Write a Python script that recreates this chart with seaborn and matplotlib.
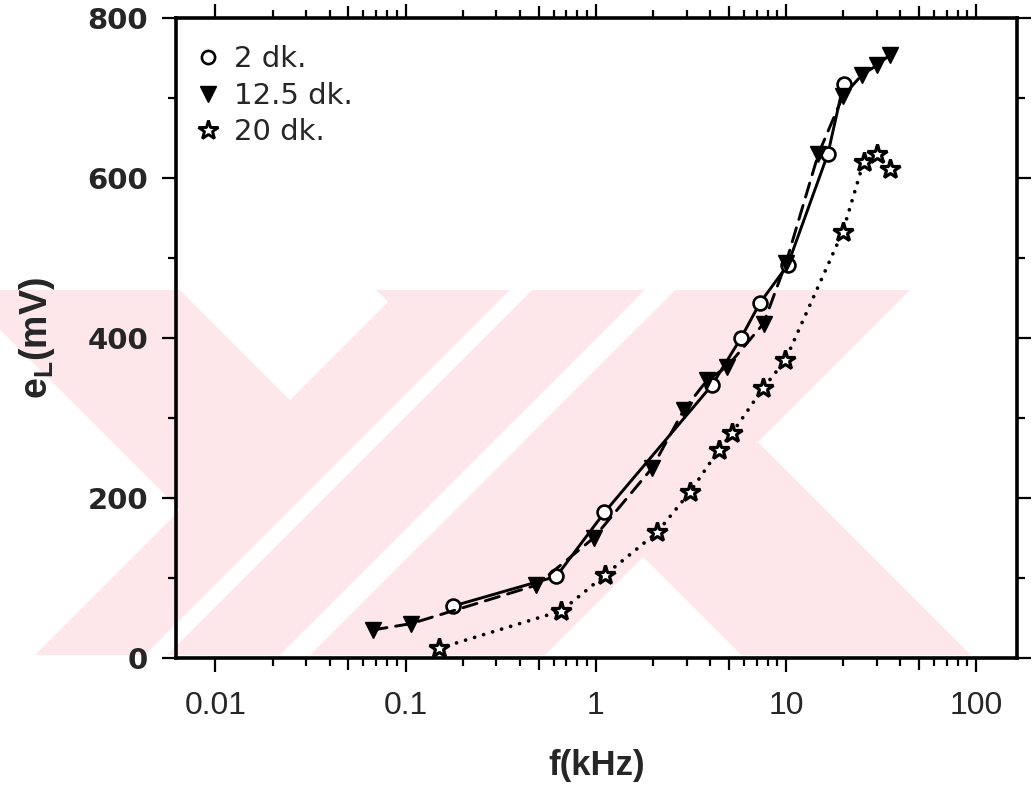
import numpy as np
import pandas as pd
import matplotlib
matplotlib.use("Agg")
import matplotlib.pyplot as plt
from matplotlib.ticker import FixedLocator, NullFormatter
from matplotlib.lines import Line2D
from matplotlib.patches import Polygon, Rectangle
import seaborn as sns

# Frequency (kHz) and load voltage e_L (mV) for three durations
f_2dk = [0.178, 0.62, 1.11, 4.08, 5.8, 7.3, 10.2, 16.6, 20.1]
e_2dk = [65, 102, 182, 341, 400, 444, 491, 630, 718]

f_12dk = [0.067, 0.107, 0.486, 0.974, 1.97, 2.9, 3.84, 4.89, 7.62, 10.0,
          14.8, 19.9, 25.1, 30.1, 35.3]
e_12dk = [35, 43, 91, 150, 237, 310, 347, 364, 418, 494,
          630, 702, 729, 741, 754]

f_20dk = [0.149, 0.66, 1.12, 2.1, 3.14, 4.43, 5.2, 7.57, 9.9, 19.9,
          25.6, 30.1, 35.1]
e_20dk = [12, 59, 104, 157, 208, 260, 281, 337, 372, 533,
          620, 630, 611]

series_labels = ["2 dk.", "12.5 dk.", "20 dk."]
x_tick_values = [0.01, 0.1, 1, 10, 100]
x_tick_labels = ["0.01", "0.1", "1", "10", "100"]
y_tick_values = [0, 200, 400, 600, 800]

sns.set_theme(style="ticks")
plt.rcParams["font.family"] = ["Liberation Sans", "DejaVu Sans"]

W, H = 1036, 801
fig = plt.figure(figsize=(W / 100, H / 100), dpi=100)

# faint pink emblem printed behind the plot (pixel space, y downwards)
bg = fig.add_axes([0, 0, 1, 1], zorder=0)
bg.set_xlim(0, W)
bg.set_ylim(H, 0)
bg.axis("off")
pink = "#fde7eb"
y0, y1 = 290, 655
clip = Rectangle((0, y0), 975, y1 - y0, transform=bg.transData)


def back_band(c1, c2):
    # band with c1 <= x - y <= c2
    return [(c1 + y0, y0), (c2 + y0, y0), (c2 + y1, y1), (c1 + y1, y1)]


def fwd_band(d1, d2):
    # band with d1 <= x + y <= d2
    return [(d1 - y0, y0), (d2 - y0, y0), (d2 - y1, y1), (d1 - y1, y1)]


for pts, col in [(back_band(-330, -110), pink), (fwd_band(690, 935), pink),
                 (back_band(86, 316), pink), (fwd_band(965, 1200), pink),
                 (fwd_band(800, 822), "white"),
                 (fwd_band(935, 965), "white")]:
    p = Polygon(pts, closed=True, facecolor=col, edgecolor="none")
    bg.add_patch(p)
    p.set_clip_path(clip)

ax = fig.add_axes([176 / W, 1 - 658 / H, (1017 - 176) / W, (658 - 18) / H],
                  zorder=1)
ax.set_facecolor("none")

frames = [
    pd.DataFrame({"f": f_2dk, "e": e_2dk}),
    pd.DataFrame({"f": f_12dk, "e": e_12dk}),
    pd.DataFrame({"f": f_20dk, "e": e_20dk}),
]
styles = [
    dict(marker="o", ms=10, mfc="white", mec="black", mew=1.9,
         linestyle="-", lw=2.1),
    dict(marker="v", ms=11.5, mfc="black", mec="black", mew=1.0,
         linestyle=(0, (5, 3)), lw=2.1),
    dict(marker="*", ms=15, mfc="white", mec="black", mew=2.3,
         linestyle=(0, (0.01, 2.5)), lw=2.7),
]

for df, st in zip(frames, styles):
    sns.lineplot(data=df, x="f", y="e", ax=ax, color="black",
                 estimator=None, sort=False, legend=False,
                 dash_capstyle="round", solid_capstyle="round", **st)

ax.set_xscale("log")
ax.set_xlim(0.0062, 164)
ax.set_ylim(0, 800)

# decade ticks plus 2..9 minor ticks between 0.01 and 100
minor_pos = [m * 10.0 ** d for d in range(-2, 2) for m in range(2, 10)]
ax.xaxis.set_major_locator(FixedLocator(x_tick_values))
ax.xaxis.set_minor_locator(FixedLocator(minor_pos))
ax.xaxis.set_minor_formatter(NullFormatter())
ax.set_xticks(x_tick_values)
ax.set_xticklabels(x_tick_labels)
ax.yaxis.set_major_locator(FixedLocator(y_tick_values))
ax.yaxis.set_minor_locator(FixedLocator([100, 300, 500, 700]))

for side in ["left", "right", "top", "bottom"]:
    ax.spines[side].set_visible(True)
    ax.spines[side].set_linewidth(2.6)
    ax.spines[side].set_color("black")

ax.tick_params(which="both", direction="out", top=True, right=True,
               color="black", width=1.6)
ax.tick_params(which="major", length=10)
ax.tick_params(which="minor", length=6)
ax.tick_params(axis="x", which="major", pad=14)
ax.tick_params(axis="y", which="major", pad=10)

# the half-decade ticks (5, 50, ...) are drawn a bit longer
for t, pos in zip(ax.xaxis.get_minor_ticks(), minor_pos):
    if abs(pos / 10 ** np.floor(np.log10(pos)) - 5) < 1e-6:
        t.tick1line.set_markersize(8.5)
        t.tick2line.set_markersize(8.5)

for lab in ax.get_xticklabels():
    lab.set_fontsize(23)
for lab in ax.get_yticklabels():
    lab.set_fontfamily(["DejaVu Sans"])
    lab.set_fontweight("bold")
    lab.set_fontsize(21)

ax.set_xlabel("f(kHz)", fontsize=25, fontweight="bold", labelpad=20)
ax.set_ylabel(r"e$_\mathregular{L}$(mV)", fontsize=27, fontweight="bold",
              labelpad=22)

handles = [
    Line2D([], [], linestyle="none", marker="o", ms=9.5, mfc="white",
           mec="black", mew=1.9),
    Line2D([], [], linestyle="none", marker="v", ms=11.5, mfc="black",
           mec="black"),
    Line2D([], [], linestyle="none", marker="*", ms=15, mfc="white",
           mec="black", mew=2.1),
]
ax.legend(handles, series_labels, loc="upper left", frameon=False,
          prop={"family": "DejaVu Sans", "size": 21},
          handlelength=0.95, handletextpad=0.42, labelspacing=0.3,
          borderpad=0, borderaxespad=0,
          bbox_to_anchor=(194 / W, 1 - 45 / H),
          bbox_transform=fig.transFigure)

fig.savefig("out.png", dpi=100)
